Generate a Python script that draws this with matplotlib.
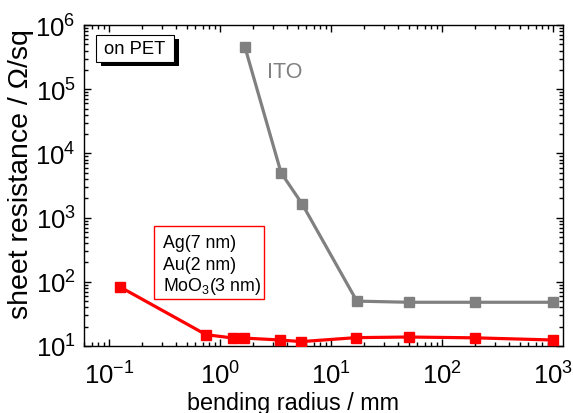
import matplotlib
matplotlib.use("Agg")
import matplotlib.pyplot as plt
from matplotlib.patches import Rectangle
from matplotlib.ticker import LogLocator, FuncFormatter, NullFormatter
import numpy as np

plt.rcParams['font.family'] = ['Liberation Sans', 'DejaVu Sans']
plt.rcParams['mathtext.fontset'] = 'custom'
plt.rcParams['mathtext.rm'] = 'Liberation Sans'
plt.rcParams['mathtext.it'] = 'Liberation Sans:italic'

ito_x = [1.68, 3.55, 5.5, 17.1, 50, 200, 1000]
ito_y = [4.5e5, 5.0e3, 1.63e3, 50, 48, 48, 48]
metal_x = [0.126, 0.75, 1.32, 1.64, 3.5, 5.4, 16.8, 50, 200, 1000]
metal_y = [83, 15, 13.3, 13.3, 12.4, 11.7, 13.5, 13.8, 13.4, 12.4]
legend_lines = ["Ag(7 nm)", "Au(2 nm)", r"MoO$_3$(3 nm)"]

fig = plt.figure(figsize=(5.73, 4.14), dpi=100)
ax = fig.add_axes([84/573, 67/414, 479/573, 321/414])

ax.plot(ito_x, ito_y, '-s', color='#808080', lw=2.3, ms=7, zorder=3)
ax.plot(metal_x, metal_y, '-s', color='#ff0000', lw=2.3, ms=7, zorder=3)

ax.set_xscale('log')
ax.set_yscale('log')
ax.set_xlim(10**-1.225, 10**3.09)
ax.set_ylim(10, 1e6)

fmt = FuncFormatter(lambda v, p: r'$\mathregular{10^{%d}}$' % round(np.log10(v)))
ax.xaxis.set_major_locator(LogLocator(base=10, numticks=10))
ax.xaxis.set_major_formatter(fmt)
ax.yaxis.set_major_locator(LogLocator(base=10, numticks=10))
ax.yaxis.set_major_formatter(fmt)
ax.xaxis.set_minor_locator(LogLocator(base=10, subs=np.arange(2, 10), numticks=20))
ax.yaxis.set_minor_locator(LogLocator(base=10, subs=np.arange(2, 10), numticks=20))
ax.xaxis.set_minor_formatter(NullFormatter())
ax.yaxis.set_minor_formatter(NullFormatter())

ax.tick_params(which='both', direction='in', top=True, right=True, width=1.0)
ax.tick_params(which='major', length=5, labelsize=18.5)
ax.tick_params(which='minor', length=3)
ax.tick_params(axis='x', which='major', pad=11)
ax.tick_params(axis='y', which='major', pad=6)
for s in ax.spines.values():
    s.set_linewidth(1.0)

ax.set_xlabel('bending radius / mm', fontsize=16.8)
ax.set_ylabel('sheet resistance / Ω/sq', fontsize=20.5)
ax.xaxis.set_label_coords(0.436, -0.141)
ax.yaxis.set_label_coords(-0.104, 0.539)

# ITO label
ax.text(0.383, 0.855, 'ITO', transform=ax.transAxes, fontsize=15.5,
        color='#808080', ha='left', va='center')

# "on PET" box with shadow
off_x = 5/479
off_y = 4/321
ax.add_patch(Rectangle((0.025 + off_x, 0.885 - off_y), 0.163, 0.084,
                       transform=ax.transAxes, facecolor='black',
                       edgecolor='black', lw=0, zorder=4))
ax.add_patch(Rectangle((0.025, 0.885), 0.163, 0.084,
                       transform=ax.transAxes, facecolor='white',
                       edgecolor='black', lw=0.8, zorder=5))
ax.text(0.1065, 0.927, 'on PET', transform=ax.transAxes, fontsize=13.2,
        ha='center', va='center', zorder=6)

# red legend box
ax.add_patch(Rectangle((0.146, 0.146), 0.230, 0.228,
                       transform=ax.transAxes, facecolor='white',
                       edgecolor='#ff0000', lw=1.0, zorder=4))
for t, yy in zip(legend_lines, [0.322, 0.255, 0.188]):
    ax.text(0.165, yy, t, transform=ax.transAxes, fontsize=12.8,
            ha='left', va='center', zorder=6)

fig.savefig('out.png', dpi=100)
